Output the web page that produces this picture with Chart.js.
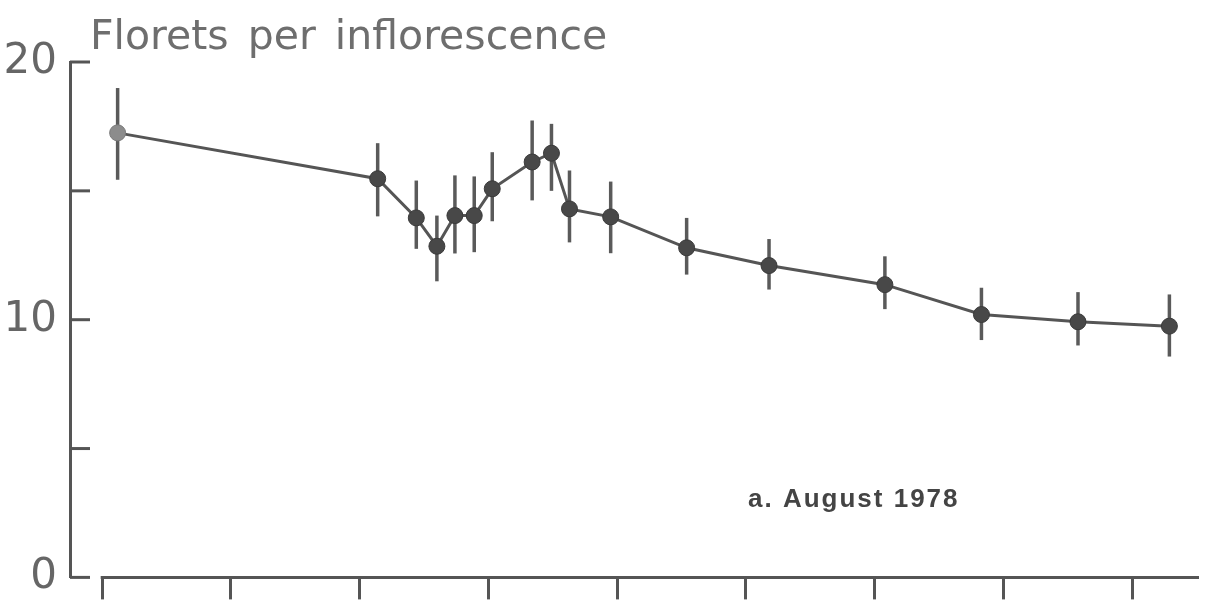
<!DOCTYPE html>
<html>
<head>
<meta charset="utf-8">
<script src="https://cdn.jsdelivr.net/npm/chart.js@4.4.0/dist/chart.umd.min.js"></script>
<style>
html, body { margin: 0; padding: 0; background: #fff; }
#wrap { width: 1208px; height: 603px; position: relative; }
</style>
</head>
<body>
<div id="wrap"><canvas id="floretCanvas" width="1208" height="603"></canvas></div>
<script>
// sampling positions along the x axis (axis has 9 unlabelled ticks, 0..8)
var sampleX = [0.12, 2.14, 2.44, 2.60, 2.74, 2.89, 3.03, 3.34, 3.49, 3.63, 3.95, 4.54, 5.18, 6.08, 6.83, 7.58, 8.29];
// mean florets per inflorescence
var floretMean = [17.25, 15.47, 13.95, 12.85, 14.04, 14.04, 15.08, 16.12, 16.46, 14.30, 13.99, 12.79, 12.10, 11.36, 10.20, 9.92, 9.75];
// error bar ends
var floretLow = [15.43, 14.01, 12.75, 11.49, 12.57, 12.62, 13.82, 14.63, 15.00, 13.00, 12.58, 11.75, 11.17, 10.41, 9.21, 9.00, 8.57];
var floretHigh = [18.99, 16.85, 15.40, 14.04, 15.60, 15.56, 16.50, 17.73, 17.60, 15.79, 15.36, 13.95, 13.13, 12.46, 11.24, 11.07, 10.98];

var xTickValues = [0, 1, 2, 3, 4, 5, 6, 7, 8];
var yTickValues = [0, 5, 10, 15, 20];
var yLabelValues = [0, 10, 20];

var yTitle = 'Florets per inflorescence';
var panelLabel = 'a. August 1978';

var inkColor = '#555555';

// axis line, inward y ticks, error bars and texts
var figureMarks = {
  id: 'figureMarks',
  beforeDatasetsDraw: function(chart) {
    var ctx = chart.ctx;
    var xs = chart.scales.x;
    var ys = chart.scales.y;
    var area = chart.chartArea;
    ctx.save();
    ctx.strokeStyle = inkColor;
    ctx.lineCap = 'butt';

    // x axis line starts at the first tick, not at the y axis
    ctx.lineWidth = 3;
    ctx.beginPath();
    ctx.moveTo(xs.getPixelForValue(xTickValues[0]) - 1.5, area.bottom);
    ctx.lineTo(area.right, area.bottom);
    ctx.stroke();

    // y ticks point into the plot
    yTickValues.forEach(function(v) {
      var y = ys.getPixelForValue(v);
      ctx.beginPath();
      ctx.moveTo(area.left, y);
      ctx.lineTo(area.left + 20, y);
      ctx.stroke();
    });

    // error bars
    ctx.strokeStyle = '#5a5a5a';
    ctx.lineWidth = 3.5;
    for (var i = 0; i < sampleX.length; i++) {
      var x = xs.getPixelForValue(sampleX[i]);
      ctx.beginPath();
      ctx.moveTo(x, ys.getPixelForValue(floretLow[i]));
      ctx.lineTo(x, ys.getPixelForValue(floretHigh[i]));
      ctx.stroke();
    }
    ctx.restore();
  },
  afterDraw: function(chart) {
    var ctx = chart.ctx;
    ctx.save();
    ctx.fillStyle = '#6e6e6e';
    ctx.font = '41px "DejaVu Sans"';
    ctx.wordSpacing = '6px';
    ctx.textBaseline = 'alphabetic';
    ctx.textAlign = 'left';
    ctx.fillText(yTitle, 90, 49);

    ctx.wordSpacing = '0px';
    ctx.fillStyle = '#444444';
    ctx.font = 'bold 26px "Liberation Sans"';
    ctx.letterSpacing = '2px';
    ctx.fillText(panelLabel, 748, 507);
    ctx.restore();
  }
};

var ctx = document.getElementById('floretCanvas').getContext('2d');
var floretChart = new Chart(ctx, {
  type: 'line',
  data: {
    datasets: [{
      data: sampleX.map(function(x, i) { return { x: x, y: floretMean[i] }; }),
      borderColor: inkColor,
      borderWidth: 3,
      tension: 0,
      pointRadius: 8,
      pointBorderWidth: 1,
      pointBackgroundColor: function(c) { return c.dataIndex === 0 ? '#8c8c8c' : '#484848'; },
      pointBorderColor: function(c) { return c.dataIndex === 0 ? '#7a7a7a' : '#3a3a3a'; },
      clip: false
    }]
  },
  options: {
    responsive: false,
    animation: false,
    devicePixelRatio: 1,
    layout: { padding: { top: 62, right: 3, left: 0, bottom: 0 } },
    plugins: {
      legend: { display: false },
      tooltip: { enabled: false }
    },
    scales: {
      x: {
        type: 'linear',
        min: -0.25,
        max: 8.52,
        afterBuildTicks: function(scale) {
          scale.ticks = xTickValues.map(function(v) { return { value: v }; });
        },
        afterFit: function(scale) { scale.height = 25; },
        border: { display: false },
        grid: { drawOnChartArea: false, drawTicks: true, tickLength: 22, color: inkColor, lineWidth: 3 },
        ticks: { display: false }
      },
      y: {
        min: 0,
        max: 20,
        afterBuildTicks: function(scale) {
          scale.ticks = yTickValues.map(function(v) { return { value: v }; });
        },
        afterFit: function(scale) { scale.width = 70; },
        border: { display: true, color: inkColor, width: 3 },
        grid: { drawOnChartArea: false, drawTicks: false },
        ticks: {
          padding: 13,
          color: '#666666',
          font: { family: 'DejaVu Sans', size: 42, lineHeight: 0.6 },
          callback: function(v) { return yLabelValues.indexOf(v) >= 0 ? String(v) : ''; }
        }
      }
    }
  },
  plugins: [figureMarks]
});
</script>
</body>
</html>
